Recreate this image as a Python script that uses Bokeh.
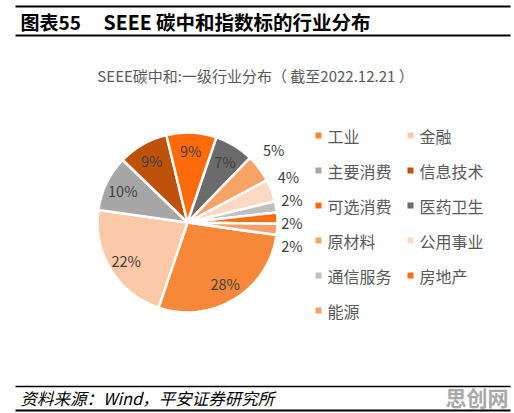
import math
from bokeh.plotting import figure
from bokeh.models import Range1d, ColumnDataSource
from bokeh.core.properties import value
from bokeh.embed import file_html
from bokeh.resources import INLINE

# Industry shares of the SEEE carbon-neutral index (%)
industries = ["工业", "金融", "主要消费", "信息技术", "可选消费", "医药卫生",
              "原材料", "公用事业", "通信服务", "房地产", "能源"]
shares = [28, 22, 10, 9, 9, 7, 5, 4, 2, 2, 2]
colors = ["#F7883A", "#FBC9A7", "#A6A6A6", "#BF520B", "#FF6A0A", "#6B6B6B",
          "#F8A366", "#FCD9C4", "#BFBFBF", "#F56E12", "#F6A070"]

W, H = 514, 413
FONT = value("Noto Sans CJK SC")


def Y(y):
    # page coordinates measured from the top
    return H - y


p = figure(width=W, height=H, output_backend="svg", toolbar_location=None,
           x_range=Range1d(0, W), y_range=Range1d(0, H), min_border=0)
p.axis.visible = False
p.grid.visible = False
p.outline_line_color = None
p.background_fill_color = "white"
p.border_fill_color = "white"

# header and footer rules
p.segment(x0=[15, 15, 15, 15], x1=[510, 510, 510, 510],
          y0=[Y(6), Y(35), Y(386), Y(410)], y1=[Y(6), Y(35), Y(386), Y(410)],
          line_color="black", line_width=[2, 2.2, 1.6, 2.2])
p.text(x=[20], y=[Y(21)], text=["图表55"], text_font=FONT, text_font_size="19px",
       text_font_style="bold", text_color="black", text_baseline="middle")
p.text(x=[103], y=[Y(21)], text=["SEEE 碳中和指数标的行业分布"], text_font=FONT,
       text_font_size="19.5px", text_font_style="bold", text_color="black",
       text_baseline="middle")
p.text(x=[20], y=[Y(397)], text=["资料来源：Wind，平安证券研究所"], text_font=FONT,
       text_font_size="16.5px", text_font_style="italic", text_color="black",
       text_baseline="middle")
p.text(x=[508], y=[Y(396)], text=["思创网"], text_font=FONT, text_font_size="21px",
       text_font_style="bold", text_color="#A8A8A8", text_align="right",
       text_baseline="middle")

# chart title
p.text(x=[255], y=[Y(75)], text=["SEEE碳中和:一级行业分布（ 截至2022.12.21 ）"],
       text_font=FONT, text_font_size="15px", text_color="#595959",
       text_align="center", text_baseline="middle")

# pie, drawn clockwise from a rotated first slice
cx, cy, r = 187, Y(222), 90
first_angle = 98.0  # degrees clockwise from 12 o'clock
total = sum(shares)
starts, ends, mids = [], [], []
acc = first_angle
for s in shares:
    a0 = acc
    a1 = acc + 360.0 * s / total
    acc = a1
    starts.append(math.radians(90 - a1))
    ends.append(math.radians(90 - a0))
    mids.append((a0 + a1) / 2)

src = ColumnDataSource(dict(start=starts, end=ends, color=colors))
p.wedge(x=cx, y=cy, radius=r, start_angle="start", end_angle="end",
        direction="anticlock", fill_color="color", line_color="white",
        line_width=2.5, source=src)

# data labels: inside for big slices, stacked outside for small ones
in_x, in_y, in_t = [], [], []
out = []
for s, m in zip(shares, mids):
    rad = math.radians(m)
    if s >= 7:
        in_x.append(cx + 0.8 * r * math.sin(rad))
        in_y.append(cy + 0.8 * r * math.cos(rad))
        in_t.append(f"{s}%")
    else:
        out.append([cx + 1.2 * r * math.sin(rad), cy + 1.2 * r * math.cos(rad), f"{s}%"])

out.sort(key=lambda o: -o[1])
orig_mean = sum(o[1] for o in out) / len(out)
gap = 23
for i in range(1, len(out)):
    if out[i - 1][1] - out[i][1] < gap:
        out[i][1] = out[i - 1][1] - gap
shift = orig_mean - sum(o[1] for o in out) / len(out)
for o in out:
    o[1] += shift
    o[0] = min(o[0], cx + 1.16 * r)

p.text(x=in_x, y=in_y, text=in_t, text_font=FONT, text_font_size="14.5px",
       text_color="#404040", text_align="center", text_baseline="middle")
p.text(x=[o[0] for o in out], y=[o[1] for o in out], text=[o[2] for o in out],
       text_font=FONT, text_font_size="14.5px", text_color="#404040",
       text_align="center", text_baseline="middle")

# legend, two columns
lx, ly = [], []
for i in range(len(industries)):
    col, row = i % 2, i // 2
    lx.append(318 + col * 92)
    ly.append(Y(135 + row * 35))
p.scatter(x=lx, y=ly, marker="square", size=6, fill_color=colors, line_color=None)
p.text(x=[x + 9 for x in lx], y=ly, text=industries, text_font=FONT,
       text_font_size="16px", text_color="#595959", text_baseline="middle")

open("out.html", "w").write(file_html(p, INLINE))
